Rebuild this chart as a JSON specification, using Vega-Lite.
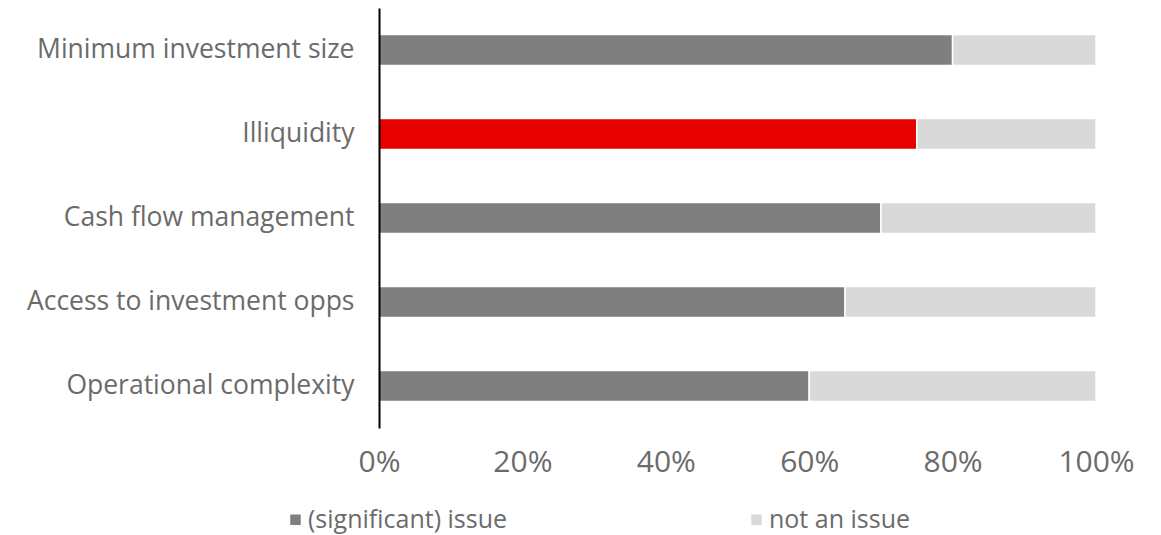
{
  "$schema": "https://vega.github.io/schema/vega-lite/v6.json",
  "width": 717,
  "height": 420,
  "autosize": {"type": "none"},
  "padding": {"left": 379, "top": 8, "right": 65, "bottom": 107},
  "background": "white",
  "config": {
    "font": "Open Sans",
    "view": {"stroke": null}
  },
  "data": {
    "values": [
      {"category": "Minimum investment size", "type": "(significant) issue", "value": 0.80, "ord": 1},
      {"category": "Minimum investment size", "type": "not an issue", "value": 0.20, "ord": 2},
      {"category": "Illiquidity", "type": "(significant) issue", "value": 0.75, "ord": 1},
      {"category": "Illiquidity", "type": "not an issue", "value": 0.25, "ord": 2},
      {"category": "Cash flow management", "type": "(significant) issue", "value": 0.70, "ord": 1},
      {"category": "Cash flow management", "type": "not an issue", "value": 0.30, "ord": 2},
      {"category": "Access to investment opps", "type": "(significant) issue", "value": 0.65, "ord": 1},
      {"category": "Access to investment opps", "type": "not an issue", "value": 0.35, "ord": 2},
      {"category": "Operational complexity", "type": "(significant) issue", "value": 0.60, "ord": 1},
      {"category": "Operational complexity", "type": "not an issue", "value": 0.40, "ord": 2}
    ]
  },
  "mark": {"type": "bar", "stroke": "white", "strokeWidth": 1.5},
  "encoding": {
    "y": {
      "field": "category",
      "type": "nominal",
      "sort": ["Minimum investment size", "Illiquidity", "Cash flow management", "Access to investment opps", "Operational complexity"],
      "scale": {"paddingInner": 0.63, "paddingOuter": 0.315},
      "axis": {
        "title": null,
        "zindex": 1,
        "ticks": false,
        "domain": true,
        "domainColor": "#000000",
        "domainWidth": 2,
        "labelFontSize": 26.5,
        "labelColor": "#6b6b6b",
        "labelPadding": 25,
        "labelLimit": 400
      }
    },
    "x": {
      "field": "value",
      "type": "quantitative",
      "stack": "zero",
      "scale": {"domain": [0, 1]},
      "axis": {
        "title": null,
        "format": ".0%",
        "values": [0, 0.2, 0.4, 0.6, 0.8, 1],
        "grid": false,
        "ticks": false,
        "domain": false,
        "labelFontSize": 30,
        "labelColor": "#6b6b6b",
        "labelPadding": 19,
        "labelFlush": false
      }
    },
    "order": {"field": "ord", "type": "quantitative"},
    "color": {
      "condition": {
        "test": "datum.category === 'Illiquidity' && datum.type === '(significant) issue'",
        "value": "#e60000"
      },
      "field": "type",
      "type": "nominal",
      "scale": {"domain": ["(significant) issue", "not an issue"], "range": ["#7f7f7f", "#d9d9d9"]},
      "legend": {
        "title": null,
        "orient": "none",
        "legendX": -96,
        "legendY": 499,
        "direction": "horizontal",
        "columns": 2,
        "columnPadding": 236,
        "symbolType": "square",
        "symbolSize": 110,
        "symbolStrokeWidth": 0,
        "labelFontSize": 25,
        "labelColor": "#6b6b6b",
        "labelOffset": 0,
        "labelLimit": 400
      }
    }
  }
}
